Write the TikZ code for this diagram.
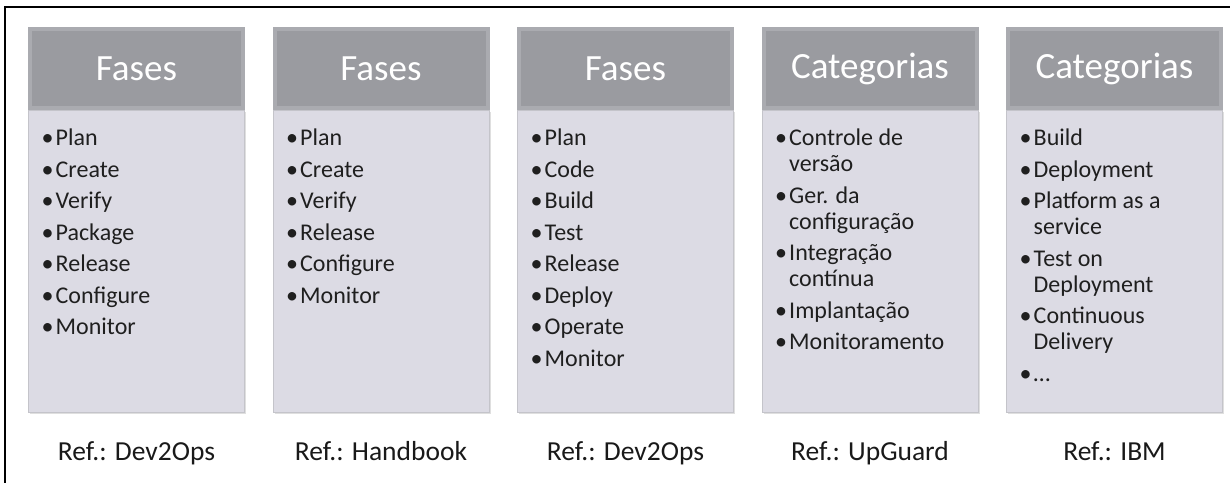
\documentclass[tikz,border=0pt]{standalone}
\usepackage{fontspec}
\setmainfont{Carlito}
\usetikzlibrary{positioning,shadows}
\definecolor{hdrfill}{RGB}{154,155,160}
\definecolor{hdredge}{RGB}{170,171,176}
\definecolor{bodyfill}{RGB}{220,219,228}
\definecolor{bodyedge}{RGB}{196,196,202}
\newcommand{\bitem}{\par\hangindent=15.5pt\hangafter=1\noindent
  \makebox[15.5pt][l]{\rule{0pt}{18pt}\hspace{1.5pt}\textbullet}}
\begin{document}
\begin{tikzpicture}[x=1pt,y=-1pt,
    hdr/.style={fill=hdrfill,draw=hdredge,line width=4pt,minimum width=213pt,
      minimum height=79pt,inner sep=0pt,text=white,font=\fontsize{37}{40}\selectfont,
      drop shadow={shadow xshift=1.5pt,shadow yshift=-1.5pt,opacity=.25}},
    bodybox/.style={fill=bodyfill,draw=bodyedge,line width=1pt,minimum width=216pt,
      minimum height=302pt,inner sep=0pt,
      drop shadow={shadow xshift=1.5pt,shadow yshift=-1.5pt,opacity=.25}},
    itemlist/.style={anchor=north west,inner sep=0pt,text width=186pt,align=flush left,
      font=\fontsize{24}{26}\selectfont,text=black!88},
    reflabel/.style={anchor=base,inner sep=0pt,font=\fontsize{27.5}{30}\selectfont,text=black!90}]
  \path[use as bounding box,clip] (0,0) rectangle (1230,482);
  \draw[line width=2pt] (5,7) rectangle (1250,500);
  \coordinate (refline) at (0,460);

  % column 1
  \node[hdr] (h1) at (136.5,68.5) {Fases};
  \node[bodybox,below=0pt of h1] (b1) {};
  \node[itemlist,below right=4pt and 12pt of b1.north west] (l1)
    {\setlength{\parskip}{5.5pt}\bitem Plan\bitem Create\bitem Verify\bitem Package
     \bitem Release\bitem Configure\bitem Monitor};
  \node[reflabel] (r1) at (b1.south |- refline) {Ref.: Dev2Ops};

  % column 2
  \node[hdr] (h2) at (381,68.5) {Fases};
  \node[bodybox,below=0pt of h2] (b2) {};
  \node[itemlist,below right=4pt and 12pt of b2.north west] (l2)
    {\setlength{\parskip}{5.5pt}\bitem Plan\bitem Create\bitem Verify\bitem Release
     \bitem Configure\bitem Monitor};
  \node[reflabel] (r2) at (b2.south |- refline) {Ref.: Handbook};

  % column 3
  \node[hdr] (h3) at (625.5,68.5) {Fases};
  \node[bodybox,below=0pt of h3] (b3) {};
  \node[itemlist,below right=4pt and 12pt of b3.north west] (l3)
    {\setlength{\parskip}{5.5pt}\bitem Plan\bitem Code\bitem Build\bitem Test
     \bitem Release\bitem Deploy\bitem Operate\bitem Monitor};
  \node[reflabel] (r3) at (b3.south |- refline) {Ref.: Dev2Ops};

  % column 4
  \node[hdr] (h4) at (870,68.5) {Categorias};
  \node[bodybox,below=0pt of h4] (b4) {};
  \node[itemlist,below right=4pt and 12pt of b4.north west] (l4)
    {\setlength{\parskip}{5.5pt}\bitem Controle de versão\bitem Ger. da configuração
     \bitem Integração contínua\bitem Implantação\bitem Monitoramento};
  \node[reflabel] (r4) at (b4.south |- refline) {Ref.: UpGuard};

  % column 5
  \node[hdr] (h5) at (1114.5,68.5) {Categorias};
  \node[bodybox,below=0pt of h5] (b5) {};
  \node[itemlist,below right=4pt and 12pt of b5.north west] (l5)
    {\setlength{\parskip}{5.5pt}\bitem Build\bitem Deployment\bitem Platform as a service
     \bitem Test on Deployment\bitem Continuous Delivery\bitem …};
  \node[reflabel] (r5) at (b5.south |- refline) {Ref.: IBM};
\end{tikzpicture}
\end{document}
